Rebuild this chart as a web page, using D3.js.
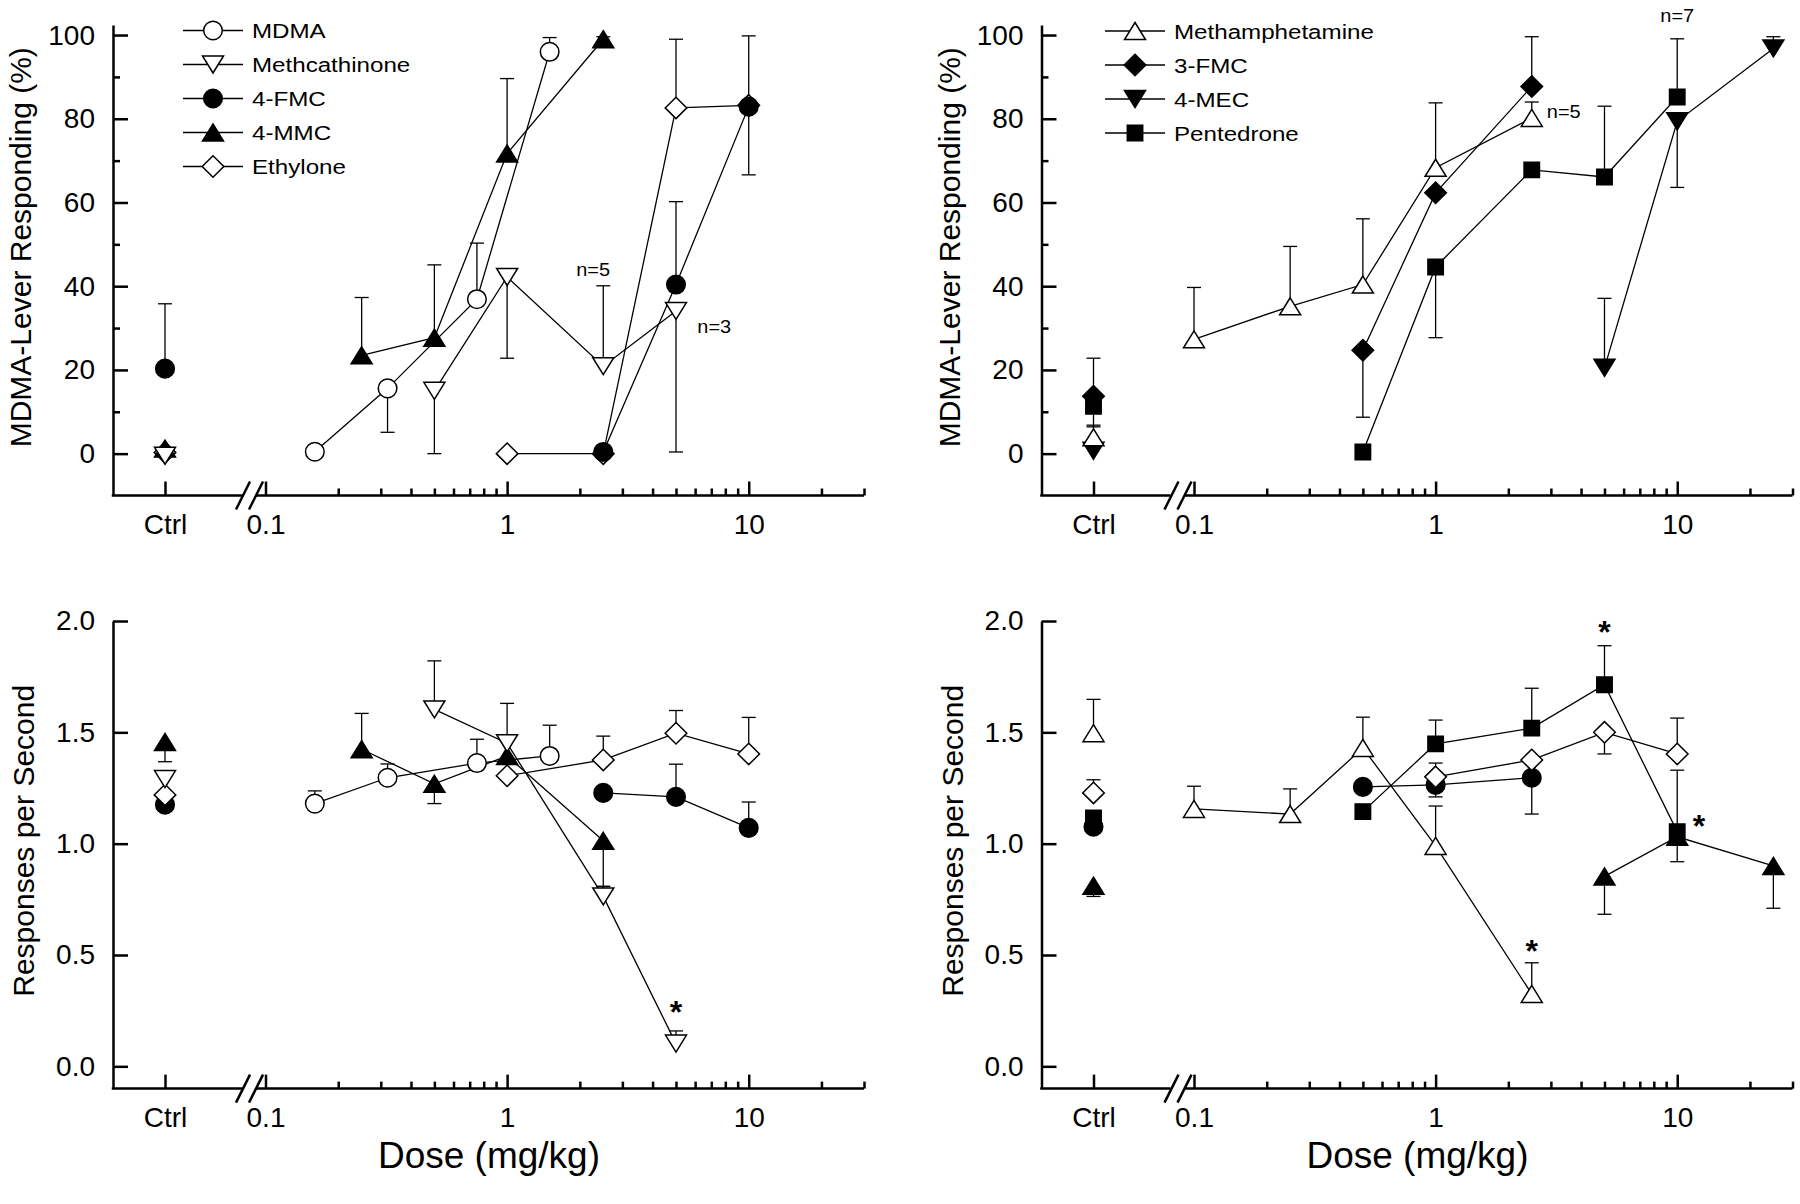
<!DOCTYPE html>
<html>
<head>
<meta charset="utf-8">
<script src="https://cdn.jsdelivr.net/npm/d3@7"></script>
<style>
  html, body { margin: 0; padding: 0; background: #fff; }
  svg { display: block; }
</style>
</head>
<body>
<div id="chart"></div>
<script>
// ---------------- data ----------------
const ctrl = 'Ctrl';
const xMajor = [0.1, 1, 10];
const xMinor = [0.2, 0.3, 0.4, 0.5, 0.6, 0.7, 0.8, 0.9, 2, 3, 4, 5, 6, 7, 8, 9, 20, 30];
const pctMajor = [0, 20, 40, 60, 80, 100];
const pctMinor = [10, 30, 50, 70, 90];
const rateMajor = [0, 0.5, 1.0, 1.5, 2.0];

// left column compounds
const mdmaDose = [0.16, 0.32, 0.75, 1.5];
const mdmaPct = [0.45, 15.6, 36.9, 96];
const mdmaPctErr = [1.5, -10.5, 13.4, 3.4];
const mdmaRate = [1.18, 1.296, 1.362, 1.394];
const mdmaRateErr = [0.057, 0.062, 0.107, 0.138];

const methcathDose = [ctrl, 0.5, 1, 2.5, 5];
const methcathPct = [-0.5, 15, 42.2, 20.9, 34.1];
const methcathPctErr = [0, -15, -19.4, 19.2, -33.7];
const methcathRate = [1.29, 1.603, 1.451, 0.763, 0.102];
const methcathRateErr = [0.033, 0.218, 0.179, 0.045, 0.057];

const fmc4Dose = [ctrl, 2.5, 5, 10];
const fmc4Pct = [20.3, 0.4, 40.4, 82.9];
const fmc4PctErr = [15.5, 0, 19.8, -16.3];
const fmc4Rate = [1.175, 1.228, 1.21, 1.071];
const fmc4RateErr = [0, 0, 0.147, 0.116];

const mmc4Dose = [ctrl, 0.25, 0.5, 1, 2.5];
const mmc4Pct = [1.2, 23.5, 27.7, 71.7, 99];
const mmc4PctErr = [0, 13.8, 17.4, 17.9, 0.6];
const mmc4Rate = [1.457, 1.424, 1.269, 1.394, 1.013];
const mmc4RateErr = [-0.089, 0.161, -0.089, 0, -0.205];

const ethyloneDose = [ctrl, 1, 2.5, 5, 10];
const ethylonePct = [0.3, 0, 0, 82.6, 83.2];
const ethylonePctErr = [0.9, 0, 0, 16.4, 16.6];
const ethyloneRate = [1.219, 1.305, 1.376, 1.496, 1.403];
const ethyloneRateErr = [0, 0, 0.107, 0.102, 0.164];

// right column compounds
const methDose = [ctrl, 0.1, 0.25, 0.5, 1, 2.5];
const methPct = [3.9, 27.3, 35.2, 40.4, 68.3, 80.2];
const methPctErr = [2.9, 12.4, 14.3, 15.7, 15.5, 3.8];
const methRate = [1.496, 1.156, 1.133, 1.43, 0.99, 0.325];
const methRateErr = [0.152, 0.102, 0.113, 0.138, 0.179, 0.14];

const fmc3Dose = [ctrl, 0.5, 1, 2.5];
const fmc3Pct = [13.7, 24.7, 62.3, 87.7];
const fmc3PctErr = [9.1, -16, 0, 11.9];
const fmc3Rate = [1.076, 1.255, 1.264, 1.296];
const fmc3RateErr = [0, 0, -0.054, -0.163];

const mec4Dose = [ctrl, 5, 10, 25];
const mec4Pct = [0.7, 20.5, 79.4, 96.8];
const mec4PctErr = [0, 16.6, -15.8, 2.8];
const mec4Rate = [0.811, 0.853, 1.031, 0.90];
const mec4RateErr = [-0.048, -0.17, -0.112, -0.19];

const pentDose = [ctrl, 0.5, 1, 2.5, 5, 10];
const pentPct = [11.3, 0.4, 44.6, 67.8, 66.1, 85.2];
const pentPctErr = [-4.9, 0, -16.9, 0, 16.9, 13.9];
const pentRate = [1.115, 1.144, 1.448, 1.519, 1.714, 1.054];
const pentRateErr = [0, 0, 0.107, 0.179, 0.175, 0.276];

// open-diamond series that appears in the lower-right panel
const diamondDDose = [ctrl, 1, 2.5, 5, 10];
const diamondDRate = [1.228, 1.30, 1.376, 1.5, 1.403];
const diamondDRateErr = [0.059, 0.062, 0, -0.097, 0.161];

// annotations: [text, dose, value]
const notesA = [['n=5', 2.27, 44], ['n=3', 7.2, 30.3]];
const notesB = [['n=5', 3.39, 81.7], ['n=7', 10, 104.8]];
const starsC = [[5, 0.275]];
const starsD = [[2.5, 0.55], [5, 1.985], [12.3, 1.112]];

// ---------------- drawing ----------------
const FONT = 'Arial, "Liberation Sans", Helvetica, sans-serif';

const symbols = {
  circle:  { draw(c) { c.moveTo(9.3, 0); c.arc(0, 0, 9.3, 0, 2 * Math.PI); } },
  triUp:   { draw(c) { c.moveTo(0, -8.5); c.lineTo(10.5, 8.5); c.lineTo(-10.5, 8.5); c.closePath(); } },
  triDown: { draw(c) { c.moveTo(0, 8.5); c.lineTo(10.5, -8.5); c.lineTo(-10.5, -8.5); c.closePath(); } },
  diamond: { draw(c) { c.moveTo(0, -10.7); c.lineTo(10.8, 0); c.lineTo(0, 10.7); c.lineTo(-10.8, 0); c.closePath(); } },
  square:  { draw(c) { c.rect(-7.7, -7.7, 15.4, 15.4); } }
};

const svg = d3.select('#chart').append('svg')
  .attr('width', 1800)
  .attr('height', 1204)
  .style('font-family', FONT);

function panel(p) {
  const g = svg.append('g');

  // scales: a single "Ctrl" slot followed by a broken log dose axis
  const xCtrl = d3.scalePoint([ctrl], [p.x0, p.x0 + 104]).padding(0.5);
  const xLog = d3.scaleLog([0.1, 30], [p.x0 + 152.5, p.x0 + 751]);
  const xPos = d => d === ctrl ? xCtrl(d) : xLog(d);
  const y = d3.scaleLinear(p.yDomain, [p.yBot, p.yTop]);

  // y axis (ticks point inward)
  g.append('g').attr('transform', `translate(${p.x0},0)`)
    .call(d3.axisLeft(y).tickValues(p.yMajor).tickFormat(p.yFmt)
      .tickSize(-15).tickSizeOuter(0).tickPadding(18));
  if (p.yMinor.length) {
    g.append('g').attr('transform', `translate(${p.x0},0)`)
      .call(d3.axisLeft(y).tickValues(p.yMinor).tickFormat('').tickSize(-7))
      .call(a => a.select('.domain').remove());
  }

  // x axes
  const xg = g.append('g').attr('transform', `translate(0,${p.yBot})`);
  xg.append('g').call(d3.axisBottom(xCtrl).tickSize(-14).tickPadding(19));
  xg.append('g').call(d3.axisBottom(xLog).tickValues(xMajor).tickFormat(d => d)
    .tickSize(-14).tickPadding(19));
  xg.append('g').call(d3.axisBottom(xLog).tickValues(xMinor).tickFormat('').tickSize(-7));
  xg.selectAll('.domain').remove();

  // baseline with the axis break
  xg.append('path')
    .attr('d', `M${p.x0 - 1.25},0H${p.x0 + 129}M${p.x0 + 143},0H${xLog.range()[1]}`)
    .attr('stroke', '#000').attr('fill', 'none');
  [0, 13].forEach(off => {
    xg.append('line')
      .attr('x1', p.x0 + 123 + off).attr('y1', 14)
      .attr('x2', p.x0 + 137 + off).attr('y2', -14)
      .attr('stroke', '#000');
  });

  g.selectAll('path, line').attr('stroke-width', 2.5);
  g.selectAll('text').attr('font-size', 28).attr('font-family', FONT).attr('fill', '#000');

  // series
  const line = d3.line().x(q => xPos(q.d)).y(q => y(q.v));
  p.series.forEach(s => {
    const pts = s.dose.map((d, i) => ({ d, v: s.val[i], e: s.err[i] }));
    const sg = g.append('g');
    sg.append('path')
      .datum(pts.filter(q => q.d !== ctrl))
      .attr('d', line)
      .attr('fill', 'none').attr('stroke', '#000').attr('stroke-width', 1.3);
    const eb = pts.filter(q => q.e !== 0);
    sg.selectAll('line.err').data(eb).join('line')
      .attr('x1', q => xPos(q.d)).attr('x2', q => xPos(q.d))
      .attr('y1', q => y(q.v)).attr('y2', q => y(q.v + q.e))
      .attr('stroke', '#000').attr('stroke-width', 1.3);
    sg.selectAll('line.cap').data(eb).join('line')
      .attr('x1', q => xPos(q.d) - 7).attr('x2', q => xPos(q.d) + 7)
      .attr('y1', q => y(q.v + q.e)).attr('y2', q => y(q.v + q.e))
      .attr('stroke', '#000').attr('stroke-width', 1.3);
    sg.selectAll('path.mark').data(pts).join('path')
      .attr('d', d3.symbol().type(symbols[s.sym]))
      .attr('transform', q => `translate(${xPos(q.d)},${y(q.v)})`)
      .attr('fill', s.filled ? '#000' : '#fff')
      .attr('stroke', '#000').attr('stroke-width', 1.5);
  });

  // legend
  if (p.legend) {
    const lg = g.append('g');
    p.legend.forEach((it, i) => {
      const ry = p.legY + i * 34;
      lg.append('line')
        .attr('x1', p.legX - 30).attr('x2', p.legX + 30)
        .attr('y1', ry).attr('y2', ry)
        .attr('stroke', '#000').attr('stroke-width', 1.3);
      lg.append('path')
        .attr('d', d3.symbol().type(symbols[it.sym]))
        .attr('transform', `translate(${p.legX},${ry})`)
        .attr('fill', it.filled ? '#000' : '#fff')
        .attr('stroke', '#000').attr('stroke-width', 1.5);
      lg.append('text')
        .attr('transform', `translate(${p.legX + 39},${ry + 7.5}) scale(1.15,1)`)
        .attr('font-size', 21)
        .text(it.name);
    });
  }

  // n= notes and significance stars
  (p.notes || []).forEach(([t, d, v]) => {
    g.append('text')
      .attr('transform', `translate(${xLog(d)},${y(v)}) scale(1.05,1)`)
      .attr('dy', '0.35em')
      .attr('text-anchor', 'middle')
      .attr('font-size', 19)
      .text(t);
  });
  (p.stars || []).forEach(([d, v]) => {
    g.append('text')
      .attr('x', xLog(d)).attr('y', y(v))
      .attr('dy', '0.57em')
      .attr('text-anchor', 'middle')
      .attr('font-size', 32)
      .attr('font-weight', 'bold')
      .text('*');
  });

  // axis titles
  g.append('text')
    .attr('transform', `translate(${p.x0 + p.yTitleDx},${(p.yTop + p.yBot) / 2 - p.yTitleUp}) rotate(-90)`)
    .attr('text-anchor', 'middle')
    .attr('font-size', 30)
    .text(p.yTitle);
  if (p.xTitle) {
    g.append('text')
      .attr('x', p.x0 + 376).attr('y', 1168)
      .attr('text-anchor', 'middle')
      .attr('font-size', 37)
      .text(p.xTitle);
  }
}

const pctFmt = d3.format('d');
const rateFmt = d3.format('.1f');

// top-left
panel({
  x0: 113, yTop: 25, yBot: 495.5, yDomain: [-10, 102.4],
  yMajor: pctMajor, yMinor: pctMinor, yFmt: pctFmt,
  yTitle: 'MDMA-Lever Responding (%)', yTitleDx: -82, yTitleUp: 13,
  series: [
    { dose: ethyloneDose, val: ethylonePct, err: ethylonePctErr, sym: 'diamond', filled: false },
    { dose: mmc4Dose, val: mmc4Pct, err: mmc4PctErr, sym: 'triUp', filled: true },
    { dose: fmc4Dose, val: fmc4Pct, err: fmc4PctErr, sym: 'circle', filled: true },
    { dose: methcathDose, val: methcathPct, err: methcathPctErr, sym: 'triDown', filled: false },
    { dose: mdmaDose, val: mdmaPct, err: mdmaPctErr, sym: 'circle', filled: false }
  ],
  legX: 213, legY: 30.5,
  legend: [
    { name: 'MDMA', sym: 'circle', filled: false },
    { name: 'Methcathinone', sym: 'triDown', filled: false },
    { name: '4-FMC', sym: 'circle', filled: true },
    { name: '4-MMC', sym: 'triUp', filled: true },
    { name: 'Ethylone', sym: 'diamond', filled: false }
  ],
  notes: notesA
});

// top-right
panel({
  x0: 1041.5, yTop: 25, yBot: 495.5, yDomain: [-10, 102.4],
  yMajor: pctMajor, yMinor: pctMinor, yFmt: pctFmt,
  yTitle: 'MDMA-Lever Responding (%)', yTitleDx: -81.5, yTitleUp: 13,
  series: [
    { dose: pentDose, val: pentPct, err: pentPctErr, sym: 'square', filled: true },
    { dose: mec4Dose, val: mec4Pct, err: mec4PctErr, sym: 'triDown', filled: true },
    { dose: fmc3Dose, val: fmc3Pct, err: fmc3PctErr, sym: 'diamond', filled: true },
    { dose: methDose, val: methPct, err: methPctErr, sym: 'triUp', filled: false }
  ],
  legX: 1135, legY: 31,
  legend: [
    { name: 'Methamphetamine', sym: 'triUp', filled: false },
    { name: '3-FMC', sym: 'diamond', filled: true },
    { name: '4-MEC', sym: 'triDown', filled: true },
    { name: 'Pentedrone', sym: 'square', filled: true }
  ],
  notes: notesB
});

// bottom-left
panel({
  x0: 113, yTop: 621, yBot: 1088.6, yDomain: [-0.1, 2.0],
  yMajor: rateMajor, yMinor: [], yFmt: rateFmt,
  yTitle: 'Responses per Second', yTitleDx: -79, yTitleUp: 14,
  series: [
    { dose: fmc4Dose, val: fmc4Rate, err: fmc4RateErr, sym: 'circle', filled: true },
    { dose: ethyloneDose, val: ethyloneRate, err: ethyloneRateErr, sym: 'diamond', filled: false },
    { dose: mmc4Dose, val: mmc4Rate, err: mmc4RateErr, sym: 'triUp', filled: true },
    { dose: methcathDose, val: methcathRate, err: methcathRateErr, sym: 'triDown', filled: false },
    { dose: mdmaDose, val: mdmaRate, err: mdmaRateErr, sym: 'circle', filled: false }
  ],
  stars: starsC,
  xTitle: 'Dose (mg/kg)'
});

// bottom-right
panel({
  x0: 1041.5, yTop: 621, yBot: 1088.6, yDomain: [-0.1, 2.0],
  yMajor: rateMajor, yMinor: [], yFmt: rateFmt,
  yTitle: 'Responses per Second', yTitleDx: -78.5, yTitleUp: 14,
  series: [
    { dose: mec4Dose, val: mec4Rate, err: mec4RateErr, sym: 'triUp', filled: true },
    { dose: pentDose, val: pentRate, err: pentRateErr, sym: 'square', filled: true },
    { dose: fmc3Dose, val: fmc3Rate, err: fmc3RateErr, sym: 'circle', filled: true },
    { dose: diamondDDose, val: diamondDRate, err: diamondDRateErr, sym: 'diamond', filled: false },
    { dose: methDose, val: methRate, err: methRateErr, sym: 'triUp', filled: false }
  ],
  stars: starsD,
  xTitle: 'Dose (mg/kg)'
});
</script>
</body>
</html>
